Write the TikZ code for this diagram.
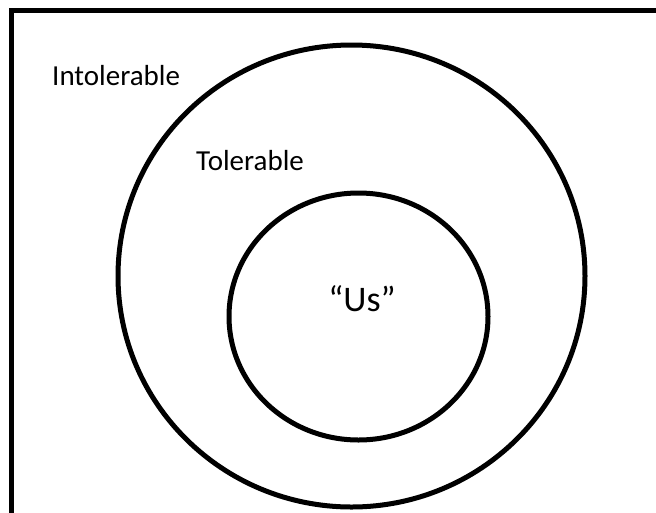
\documentclass[tikz,border=0pt]{standalone}
\usepackage{fontspec}
\setmainfont{Carlito}
\begin{document}
\begin{tikzpicture}[x=1pt,y=-1pt,
  ring/.style={draw=black,line width=5pt},
  lbl/.style={inner sep=0pt,font=\fontsize{29}{31}\selectfont}]
\useasboundingbox (0,0) rectangle (656,512);
\draw[line width=5pt,line cap=butt] (11.5,520) -- (11.5,10.5) -- (664,10.5);
\draw[ring] (351.5,276) ellipse [x radius=233.5, y radius=231];
\draw[ring] (358.5,316.5) ellipse [x radius=129.5, y radius=123.5];
\node[lbl,anchor=base west] (intol) at (52,85) {Intolerable};
\node[lbl,anchor=base west] (tol) at (196,170) {Tolerable};
\node[inner sep=0pt,anchor=base,font=\fontsize{36}{38}\selectfont] (us) at (362,311) {“Us”};
\end{tikzpicture}
\end{document}
